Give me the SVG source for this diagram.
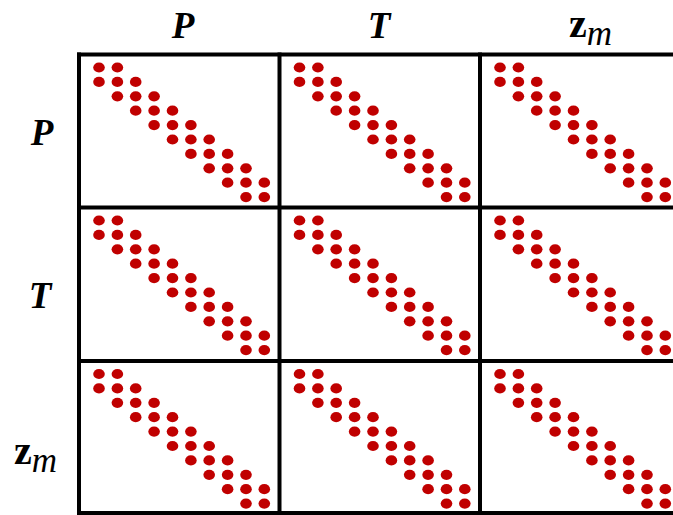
<svg xmlns="http://www.w3.org/2000/svg" xmlns:xlink="http://www.w3.org/1999/xlink" width="673" height="515" viewBox="0 0 673 515">
<style>
.lbl{font-family:"Liberation Serif","Times New Roman",serif;font-weight:bold;font-style:italic;font-size:37px;fill:#000;text-anchor:middle}
.zb{font-family:"Liberation Serif","Times New Roman",serif;font-weight:bold;font-style:normal;font-size:40px;fill:#000}
.sub{font-family:"Liberation Serif","Times New Roman",serif;font-weight:normal;font-style:italic;font-size:35px}
.grid{stroke:#000;stroke-width:4;fill:none}
.dot{fill:#c00000}
</style>
<defs>
<g id="band">
<ellipse class="dot" cx="20" cy="13" rx="5.8" ry="5.1"/><ellipse class="dot" cx="38.4" cy="13" rx="5.8" ry="5.1"/>
<ellipse class="dot" cx="20" cy="27.4" rx="5.8" ry="5.1"/><ellipse class="dot" cx="38.4" cy="27.4" rx="5.8" ry="5.1"/><ellipse class="dot" cx="56.7" cy="27.4" rx="5.8" ry="5.1"/>
<ellipse class="dot" cx="38.4" cy="41.8" rx="5.8" ry="5.1"/><ellipse class="dot" cx="56.7" cy="41.8" rx="5.8" ry="5.1"/><ellipse class="dot" cx="75.1" cy="41.8" rx="5.8" ry="5.1"/>
<ellipse class="dot" cx="56.7" cy="56.2" rx="5.8" ry="5.1"/><ellipse class="dot" cx="75.1" cy="56.2" rx="5.8" ry="5.1"/><ellipse class="dot" cx="93.5" cy="56.2" rx="5.8" ry="5.1"/>
<ellipse class="dot" cx="75.1" cy="70.6" rx="5.8" ry="5.1"/><ellipse class="dot" cx="93.5" cy="70.6" rx="5.8" ry="5.1"/><ellipse class="dot" cx="111.9" cy="70.6" rx="5.8" ry="5.1"/>
<ellipse class="dot" cx="93.5" cy="85" rx="5.8" ry="5.1"/><ellipse class="dot" cx="111.9" cy="85" rx="5.8" ry="5.1"/><ellipse class="dot" cx="130.2" cy="85" rx="5.8" ry="5.1"/>
<ellipse class="dot" cx="111.9" cy="99.4" rx="5.8" ry="5.1"/><ellipse class="dot" cx="130.2" cy="99.4" rx="5.8" ry="5.1"/><ellipse class="dot" cx="148.6" cy="99.4" rx="5.8" ry="5.1"/>
<ellipse class="dot" cx="130.2" cy="113.8" rx="5.8" ry="5.1"/><ellipse class="dot" cx="148.6" cy="113.8" rx="5.8" ry="5.1"/><ellipse class="dot" cx="167" cy="113.8" rx="5.8" ry="5.1"/>
<ellipse class="dot" cx="148.6" cy="128.2" rx="5.8" ry="5.1"/><ellipse class="dot" cx="167" cy="128.2" rx="5.8" ry="5.1"/><ellipse class="dot" cx="185.3" cy="128.2" rx="5.8" ry="5.1"/>
<ellipse class="dot" cx="167" cy="142.6" rx="5.8" ry="5.1"/><ellipse class="dot" cx="185.3" cy="142.6" rx="5.8" ry="5.1"/>
</g>
</defs>
<rect x="0" y="0" width="673" height="515" fill="#fff"/>
<g id="labels">
<text id="col-P" class="lbl" x="183" y="37.5">P</text>
<text id="col-T" class="lbl" x="379" y="37.5">T</text>
<text id="col-zm" class="zb" x="569" y="37">z<tspan class="sub" dy="8">m</tspan></text>
<text id="row-P" class="lbl" x="42" y="145">P</text>
<text id="row-T" class="lbl" x="40" y="308">T</text>
<text id="row-zm" class="zb" x="14" y="463.5">z<tspan class="sub" dy="8">m</tspan></text>
</g>
<g id="blocks">
<g id="block-P-P"><use xlink:href="#band" href="#band" x="79" y="54.5"/></g>
<g id="block-P-T"><use xlink:href="#band" href="#band" x="279.5" y="54.5"/></g>
<g id="block-P-zm"><use xlink:href="#band" href="#band" x="480" y="54.5"/></g>
<g id="block-T-P"><use xlink:href="#band" href="#band" x="79" y="207.5"/></g>
<g id="block-T-T"><use xlink:href="#band" href="#band" x="279.5" y="207.5"/></g>
<g id="block-T-zm"><use xlink:href="#band" href="#band" x="480" y="207.5"/></g>
<g id="block-zm-P"><use xlink:href="#band" href="#band" x="79" y="361"/></g>
<g id="block-zm-T"><use xlink:href="#band" href="#band" x="279.5" y="361"/></g>
<g id="block-zm-zm"><use xlink:href="#band" href="#band" x="480" y="361"/></g>
</g>
<g id="grid" class="grid">
<line x1="79" y1="52.5" x2="79" y2="515"/>
<line x1="279.5" y1="52.5" x2="279.5" y2="515"/>
<line x1="480" y1="52.5" x2="480" y2="515"/>
<line x1="77" y1="54.5" x2="673" y2="54.5"/>
<line x1="77" y1="207.5" x2="673" y2="207.5"/>
<line x1="77" y1="361" x2="673" y2="361"/>
<line x1="77" y1="513" x2="673" y2="513"/>
</g>
</svg>
